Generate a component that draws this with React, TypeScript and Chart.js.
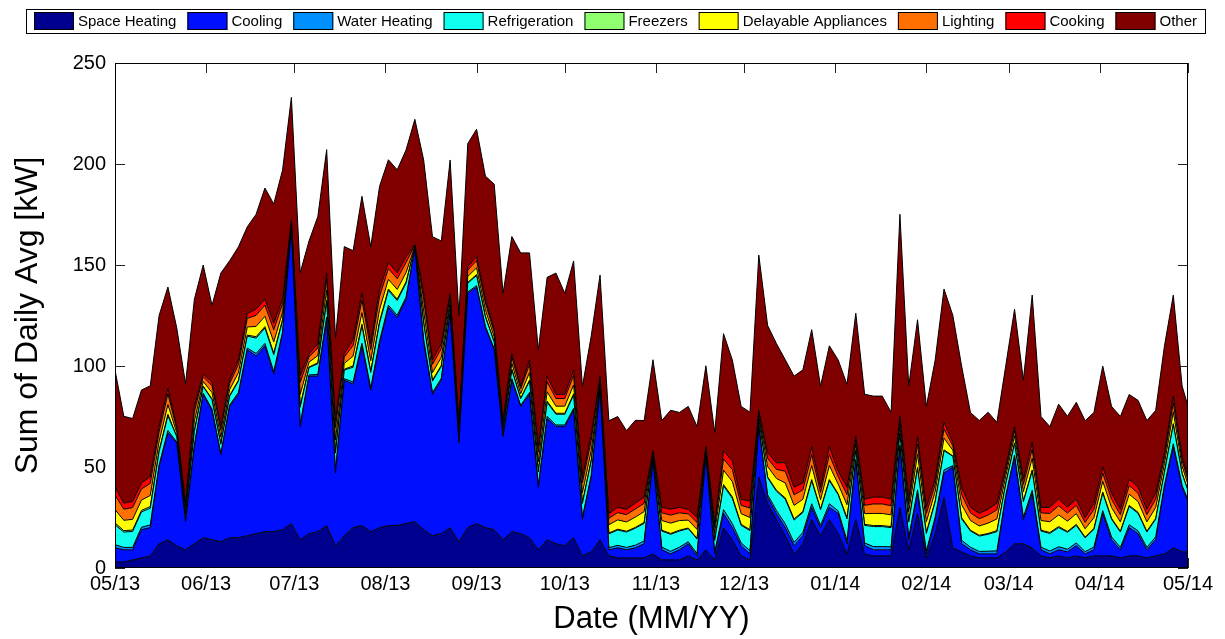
import React, { useEffect, useRef } from 'react';
import { Chart, registerables } from 'chart.js';

Chart.register(...registerables);

// Samples are taken every 3 days starting 1 May 2013; the last one closes the year.
const SAMPLE_STEP = 3;
const LAST_DAY = 365;

const monthDays = [0, 31, 61, 92, 123, 153, 184, 214, 245, 276, 304, 335, 365];
const monthLabels = ['05/13', '06/13', '07/13', '08/13', '09/13', '10/13', '11/13', '12/13', '01/14', '02/14', '03/14', '04/14', '05/14'];
const yTicks = [0, 50, 100, 150, 200, 250];

// kW per end use (daily averages, summed over homes)
const spaceHeating = [
  3, 3, 4, 5, 6, 12, 14, 11, 9, 12, 15, 14, 13, 15, 15, 16, 17, 18, 18, 19, 22, 14, 17, 18, 21, 11, 16, 20, 21, 18,
  20, 21, 21, 22, 23, 19, 16, 17, 20, 13, 20, 22, 20, 19, 14, 18, 17, 15, 9, 14, 12, 11, 15, 6, 8, 14,
  6, 5, 5, 5, 5, 7, 4, 4, 4, 6, 4, 9, 4, 20, 14, 6, 4, 45, 32, 24, 16, 7, 12, 24, 16, 24, 17, 7, 24, 7,
  6, 6, 6, 30, 9, 27, 5, 17, 35, 10, 8, 6, 5, 5, 5, 8, 12, 12, 10, 6, 5, 6, 5, 6, 5, 6, 6, 6, 5, 6,
  6, 5, 6, 7, 10, 8, 8,
];
const cooling = [
  7, 6, 5, 14, 14, 38, 53, 51, 14, 48, 71, 64, 43, 65, 71, 92, 88, 92, 78, 97, 146, 56, 78, 77, 102, 36, 77, 71, 89, 70,
  91, 108, 103, 111, 135, 93, 70, 76, 106, 49, 116, 117, 99, 89, 51, 75, 63, 71, 31, 60, 58, 59, 63, 18, 37, 74,
  3, 5, 4, 5, 7, 46, 5, 3, 5, 6, 2, 46, 3, 7, 6, 5, 3, 25, 3, 3, 4, 4, 4, 6, 4, 6, 10, 5, 29, 4,
  3, 3, 3, 30, 5, 10, 2, 7, 12, 40, 4, 3, 2, 2, 2, 27, 43, 12, 27, 3, 2, 3, 3, 5, 2, 3, 21, 8, 4, 14,
  11, 4, 8, 33, 50, 32, 25,
];
const waterHeating = [
  1.5, 1.2, 1.2, 1.2, 1.3, 1.0, 1.1, 0.4, 0.5, 1.0, 0.5, 0.7, 0.7, 0.7, 0.9, 0.9, 1.2, 1.2, 1.3, 0.9, 0.2, 1.3, 0.6, 0.8, 1.2,
  1.3, 0.7, 1.1, 1.3, 1.2, 1.4, 1.1, 1.1, 1.1, 0.1, 1.2, 0.9, 0.9, 0.5, 0.5, 0.7, 0.8, 0.7, 0.5, 0.4, 0.7, 0.5, 0.9, 1.0, 1.1,
  0.8, 0.8, 1.0, 1.1, 1.1, 0.4,
  1.1, 1.2, 1.2, 1.3, 1.4, 0.3, 1.3, 1.3, 1.3, 1.0, 1.1, 0.3, 0.9, 1.9, 2.0, 1.4, 1.6, 0.5, 1.3, 1.5, 1.9, 1.7, 1.6, 1.8, 1.2,
  1.8, 1.3, 1.7, 0.7, 1.4, 1.6, 1.6, 1.5, 0.9, 1.2, 1.7, 1.4, 1.2, 1.5, 0.7, 1.7, 1.3, 1.2, 1.3, 1.5, 0.9, 0.9, 1.2, 1.5, 1.3,
  1.4, 1.5, 1.3, 1.4, 1.1, 1.4, 1.4, 1.4, 1.2, 1.4, 1.4, 1.2, 1.4, 1.0, 1.5, 0.9, 0.7,
];
const refrigeration = [
  9.9, 7.6, 7.9, 7.6, 8.3, 6.6, 7.3, 2.6, 3.0, 6.6, 3.3, 4.6, 4.6, 4.3, 5.6, 5.9, 7.6, 7.6, 8.3, 5.6, 1.3, 8.3, 3.6, 5.3, 7.6,
  8.6, 4.3, 7.3, 8.6, 7.6, 8.9, 7.3, 7.3, 6.9, 0.7, 7.9, 5.6, 5.9, 3.3, 3.3, 4.3, 5.0, 4.6, 3.3, 2.6, 4.3, 3.3, 5.6, 6.6, 6.9,
  5.3, 5.3, 6.6, 6.9, 6.9, 2.3,
  6.8, 7.6, 7.6, 8.4, 8.7, 1.9, 8.0, 8.4, 8.0, 6.5, 7.2, 1.9, 5.7, 11.8, 12.5, 8.7, 9.9, 3.0, 8.4, 9.5, 12.2, 11.0, 9.9, 11.4, 7.6,
  11.4, 8.0, 10.6, 4.6, 8.7, 9.9, 9.9, 9.5, 5.7, 7.6, 10.6, 8.7, 7.6, 9.5, 4.6, 10.6, 8.0, 7.6, 8.4, 9.5, 5.7, 5.7, 7.6, 9.5, 8.0,
  8.7, 9.5, 8.4, 8.7, 6.8, 8.7, 8.7, 8.7, 7.6, 9.1, 8.7, 7.6, 8.7, 6.5, 9.5, 5.7, 4.6,
];
const freezers = [
  0.9, 0.7, 0.7, 0.7, 0.8, 0.6, 0.7, 0.2, 0.3, 0.6, 0.3, 0.4, 0.4, 0.4, 0.5, 0.5, 0.7, 0.7, 0.8, 0.5, 0.1, 0.8, 0.3, 0.5, 0.7,
  0.8, 0.4, 0.7, 0.8, 0.7, 0.8, 0.7, 0.7, 0.6, 0.1, 0.7, 0.5, 0.5, 0.3, 0.3, 0.4, 0.5, 0.4, 0.3, 0.2, 0.4, 0.3, 0.5, 0.6, 0.6,
  0.5, 0.5, 0.6, 0.6, 0.6, 0.2,
  0.4, 0.4, 0.4, 0.4, 0.5, 0.1, 0.4, 0.4, 0.4, 0.3, 0.4, 0.1, 0.3, 0.6, 0.7, 0.5, 0.5, 0.2, 0.4, 0.5, 0.6, 0.6, 0.5, 0.6, 0.4,
  0.6, 0.4, 0.6, 0.2, 0.5, 0.5, 0.5, 0.5, 0.3, 0.4, 0.6, 0.5, 0.4, 0.5, 0.2, 0.6, 0.4, 0.4, 0.4, 0.5, 0.3, 0.3, 0.4, 0.5, 0.4,
  0.5, 0.5, 0.4, 0.5, 0.4, 0.5, 0.5, 0.5, 0.4, 0.5, 0.5, 0.4, 0.5, 0.3, 0.5, 0.3, 0.2,
];
const delayable = [
  6.6, 5.1, 5.3, 5.1, 5.5, 4.4, 4.8, 1.8, 2.0, 4.4, 2.2, 3.1, 3.1, 2.9, 3.7, 4.0, 5.1, 5.1, 5.5, 3.7, 0.9, 5.5, 2.4, 3.5, 5.1,
  5.7, 2.9, 4.8, 5.7, 5.1, 5.9, 4.8, 4.8, 4.6, 0.4, 5.3, 3.7, 4.0, 2.2, 2.2, 2.9, 3.3, 3.1, 2.2, 1.8, 2.9, 2.2, 3.7, 4.4, 4.6,
  3.5, 3.5, 4.4, 4.6, 4.6, 1.5,
  4.1, 4.6, 4.6, 5.1, 5.3, 1.2, 4.8, 5.1, 4.8, 3.9, 4.4, 1.2, 3.5, 7.1, 7.6, 5.3, 6.0, 1.8, 5.1, 5.8, 7.4, 6.7, 6.0, 6.9, 4.6,
  6.9, 4.8, 6.4, 2.8, 5.3, 6.0, 6.0, 5.8, 3.5, 4.6, 6.4, 5.3, 4.6, 5.8, 2.8, 6.4, 4.8, 4.6, 5.1, 5.8, 3.5, 3.5, 4.6, 5.8, 4.8,
  5.3, 5.8, 5.1, 5.3, 4.1, 5.3, 5.3, 5.3, 4.6, 5.5, 5.3, 4.6, 5.3, 3.9, 5.8, 3.5, 2.8,
];
const lighting = [
  7.2, 5.5, 5.8, 5.5, 6.0, 4.8, 5.3, 1.9, 2.2, 4.8, 2.4, 3.4, 3.4, 3.1, 4.1, 4.3, 5.5, 5.5, 6.0, 4.1, 1.0, 6.0, 2.6, 3.8, 5.5,
  6.2, 3.1, 5.3, 6.2, 5.5, 6.5, 5.3, 5.3, 5.0, 0.5, 5.8, 4.1, 4.3, 2.4, 2.4, 3.1, 3.6, 3.4, 2.4, 1.9, 3.1, 2.4, 4.1, 4.8, 5.0,
  3.8, 3.8, 4.8, 5.0, 5.0, 1.7,
  3.2, 3.6, 3.6, 4.0, 4.1, 0.9, 3.8, 4.0, 3.8, 3.1, 3.4, 0.9, 2.7, 5.6, 5.9, 4.1, 4.7, 1.4, 4.0, 4.5, 5.8, 5.2, 4.7, 5.4, 3.6,
  5.4, 3.8, 5.0, 2.2, 4.1, 4.7, 4.7, 4.5, 2.7, 3.6, 5.0, 4.1, 3.6, 4.5, 2.2, 5.0, 3.8, 3.6, 4.0, 4.5, 2.7, 2.7, 3.6, 4.5, 3.8,
  4.1, 4.5, 4.0, 4.1, 3.2, 4.1, 4.1, 4.1, 3.6, 4.3, 4.1, 3.6, 4.1, 3.1, 4.5, 2.7, 2.2,
];
const cooking = [
  3.9, 3.0, 3.1, 3.0, 3.3, 2.6, 2.9, 1.0, 1.2, 2.6, 1.3, 1.8, 1.8, 1.7, 2.2, 2.3, 3.0, 3.0, 3.3, 2.2, 0.5, 3.3, 1.4, 2.1, 3.0,
  3.4, 1.7, 2.9, 3.4, 3.0, 3.5, 2.9, 2.9, 2.7, 0.3, 3.1, 2.2, 2.3, 1.3, 1.3, 1.7, 2.0, 1.8, 1.3, 1.0, 1.7, 1.3, 2.2, 2.6, 2.7,
  2.1, 2.1, 2.6, 2.7, 2.7, 0.9,
  2.3, 2.6, 2.6, 2.9, 3.0, 0.7, 2.7, 2.9, 2.7, 2.2, 2.5, 0.7, 2.0, 4.0, 4.3, 3.0, 3.4, 1.0, 2.9, 3.3, 4.2, 3.8, 3.4, 3.9, 2.6,
  3.9, 2.7, 3.6, 1.6, 3.0, 3.4, 3.4, 3.3, 2.0, 2.6, 3.6, 3.0, 2.6, 3.3, 1.6, 3.6, 2.7, 2.6, 2.9, 3.3, 2.0, 2.0, 2.6, 3.3, 2.7,
  3.0, 3.3, 2.9, 3.0, 2.3, 3.0, 3.0, 3.0, 2.6, 3.1, 3.0, 2.6, 3.0, 2.2, 3.3, 2.0, 1.6,
];
const other = [
  58, 43, 41, 46, 45, 55, 50, 49, 59, 53, 54, 38, 76, 59, 56, 43, 47, 55, 59, 64, 61, 51, 56, 63, 61, 41, 53, 44, 48, 48,
  51, 51, 51, 53, 62, 66, 61, 51, 66, 53, 61, 63, 61, 72, 63, 58, 66, 53, 48, 49, 60, 50, 54, 45, 49, 50,
  46, 45, 39, 41, 38, 45, 43, 49, 47, 51, 45, 40, 45, 58, 50, 46, 44, 77, 63, 59, 51, 55, 56, 58, 50, 50, 55, 51, 61, 52,
  50, 50, 43, 100, 56, 58, 50, 59, 66, 63, 60, 47, 46, 48, 40, 50, 58, 49, 73, 45, 40, 47, 45, 48, 48, 45, 50, 43, 46, 42,
  43, 44, 41, 53, 50, 35, 35,
];

const sampleDays = spaceHeating.map((_, i) => Math.min(i * SAMPLE_STEP, LAST_DAY));

const series = [
  { label: 'Space Heating', data: spaceHeating, color: '#00008f' },
  { label: 'Cooling', data: cooling, color: '#0010ff' },
  { label: 'Water Heating', data: waterHeating, color: '#008fff' },
  { label: 'Refrigeration', data: refrigeration, color: '#10ffef' },
  { label: 'Freezers', data: freezers, color: '#8fff70' },
  { label: 'Delayable Appliances', data: delayable, color: '#ffff00' },
  { label: 'Lighting', data: lighting, color: '#ff7000' },
  { label: 'Cooking', data: cooking, color: '#ff0000' },
  { label: 'Other', data: other, color: '#800000' },
];

const FONT = '"Liberation Sans", Arial, sans-serif';

// Framed single-row legend above the axes
const framedLegend = {
  id: 'framedLegend',
  afterDraw(chart: any) {
    const ctx = chart.ctx as CanvasRenderingContext2D;
    const boxW = 40;
    const boxH = 18;
    const textGap = 4;
    const itemGap = 11;
    const pad = 8;
    ctx.save();
    ctx.font = `15px ${FONT}`;
    const widths = series.map((s) => ctx.measureText(s.label).width);
    const inner = widths.reduce((a, w) => a + boxW + textGap + w, 0) + itemGap * (series.length - 1);
    const total = inner + pad * 2;
    const x0 = Math.round(615 - total / 2);
    ctx.strokeStyle = '#000';
    ctx.lineWidth = 1;
    ctx.strokeRect(x0 + 0.5, 9.5, Math.round(total), 24);
    let x = x0 + pad;
    ctx.textBaseline = 'middle';
    ctx.textAlign = 'left';
    series.forEach((s, i) => {
      ctx.fillStyle = s.color;
      ctx.fillRect(x, 12, boxW, boxH);
      ctx.strokeStyle = '#000';
      ctx.strokeRect(x + 0.5, 12.5, boxW - 1, boxH - 1);
      ctx.fillStyle = '#000';
      ctx.fillText(s.label, x + boxW + textGap, 21.5);
      x += boxW + textGap + widths[i] + itemGap;
    });
    ctx.restore();
  },
};

// Inward tick marks on all four sides, painted under the areas, plus the axes box on top
const boxAxes = {
  id: 'boxAxes',
  beforeDatasetsDraw(chart: any) {
    const { ctx, chartArea: a, scales } = chart;
    const len = 10;
    ctx.save();
    ctx.strokeStyle = '#222';
    ctx.lineWidth = 1;
    ctx.beginPath();
    yTicks.forEach((v) => {
      const y = Math.round(scales.y.getPixelForValue(v)) + 0.5;
      ctx.moveTo(a.left, y);
      ctx.lineTo(a.left + len, y);
      ctx.moveTo(a.right, y);
      ctx.lineTo(a.right - len, y);
    });
    monthDays.forEach((d) => {
      const x = Math.round(scales.x.getPixelForValue(d)) + 0.5;
      ctx.moveTo(x, a.top);
      ctx.lineTo(x, a.top + len);
      ctx.moveTo(x, a.bottom);
      ctx.lineTo(x, a.bottom - len);
    });
    ctx.stroke();
    ctx.restore();
  },
  afterDatasetsDraw(chart: any) {
    const { ctx, chartArea: a } = chart;
    ctx.save();
    ctx.strokeStyle = '#000';
    ctx.lineWidth = 1;
    ctx.strokeRect(Math.round(a.left) + 0.5, Math.round(a.top) + 0.5, Math.round(a.right - a.left) - 1, Math.round(a.bottom - a.top) - 1);
    ctx.restore();
  },
};

export default function App() {
  const canvasRef = useRef<HTMLCanvasElement>(null);

  useEffect(() => {
    document.body.style.margin = '0';
    const canvas = canvasRef.current;
    if (!canvas) return;
    Chart.defaults.font.family = FONT;
    Chart.defaults.color = '#000';

    const chart = new Chart(canvas, {
      type: 'line',
      data: {
        datasets: series.map((s, i) => ({
          label: s.label,
          data: s.data.map((v, j) => ({ x: sampleDays[j], y: v })),
          backgroundColor: s.color,
          borderColor: '#000',
          borderWidth: 1,
          pointRadius: 0,
          pointHoverRadius: 0,
          tension: 0,
          fill: i === 0 ? 'origin' : '-1',
        })),
      },
      options: {
        responsive: false,
        animation: false,
        events: [],
        layout: { padding: { top: 63, right: 37, bottom: 0, left: 0 } },
        plugins: {
          legend: { display: false },
          tooltip: { enabled: false },
        },
        scales: {
          x: {
            type: 'linear',
            min: 0,
            max: LAST_DAY,
            grid: { display: false, drawTicks: false },
            border: { display: false },
            afterBuildTicks: (scale: any) => {
              scale.ticks = monthDays.map((v) => ({ value: v }));
            },
            afterFit: (scale: any) => {
              scale.height = 71;
            },
            ticks: {
              autoSkip: false,
              maxRotation: 0,
              padding: 4,
              color: '#000',
              font: { size: 20 },
              callback: (_v: any, index: number) => monthLabels[index],
            },
            title: {
              display: true,
              text: 'Date (MM/YY)',
              color: '#000',
              font: { size: 31 },
              padding: { top: 0, bottom: 1 },
            },
          },
          y: {
            stacked: true,
            min: 0,
            max: 250,
            grid: { display: false, drawTicks: false },
            border: { display: false },
            afterFit: (scale: any) => {
              scale.width = 115;
            },
            ticks: {
              stepSize: 50,
              padding: 9,
              color: '#000',
              font: { size: 20 },
            },
            title: {
              display: true,
              text: 'Sum of Daily Avg [kW]',
              color: '#000',
              font: { size: 32 },
              padding: { top: 9, bottom: 0 },
            },
          },
        },
      },
      plugins: [framedLegend, boxAxes],
    });

    return () => chart.destroy();
  }, []);

  return <canvas ref={canvasRef} width={1225} height={639} style={{ display: 'block' }} />;
}
